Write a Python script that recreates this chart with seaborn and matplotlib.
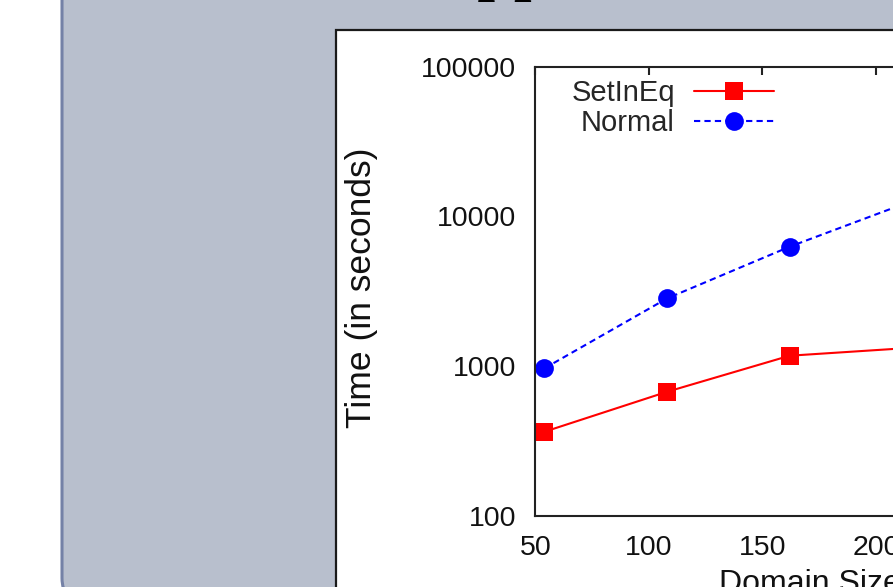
import matplotlib
matplotlib.use("Agg")
import matplotlib.pyplot as plt
from matplotlib.patches import FancyBboxPatch, Rectangle
from matplotlib.ticker import LogLocator, NullFormatter
import numpy as np
import seaborn as sns

# data
domain_size = [54, 108, 162, 216]
setineq_time = [364, 673, 1172, 1325]
normal_time = [966, 2830, 6270, 12700]
x_ticks = [50, 100, 150, 200, 250, 300]
y_ticks = [100, 1000, 10000, 100000]

sns.set_theme(style="white")
plt.rcParams["font.family"] = ["Liberation Sans", "DejaVu Sans"]

fig = plt.figure(figsize=(8.93, 5.87), dpi=100)

# slide background (pixel coordinates, y down)
bg = fig.add_axes([0, 0, 1, 1], zorder=0)
bg.set_xlim(0, 893)
bg.set_ylim(587, 0)
bg.axis("off")
bg.add_patch(FancyBboxPatch((62, -60), 1000, 662,
                            boxstyle="round,pad=0,rounding_size=24",
                            fc="#b8bfcd", ec="#7481a6", lw=2.2))
bg.add_patch(Rectangle((336, 30), 700, 700, fc="white", ec="#1a1a1a", lw=1.6))
bg.text(477, -14, "pp", family=["Liberation Serif", "DejaVu Serif"],
        fontsize=54, va="baseline", ha="left", color="black")

# chart
ax = fig.add_axes([535.4 / 893, (587 - 515.7) / 587, 567.5 / 893, 449 / 587], zorder=1)
ax.set_facecolor("white")

sns.lineplot(x=domain_size, y=setineq_time, ax=ax, color="#ff0000", marker="s",
             markersize=12.5, markeredgewidth=0, linewidth=1.5, label="SetInEq")
sns.lineplot(x=domain_size, y=normal_time, ax=ax, color="#0000ff", marker="o",
             markersize=13.5, markeredgewidth=0, linewidth=1.5,
             linestyle=(0, (3, 2)), label="Normal")

ax.set_yscale("log")
ax.set_xlim(50, 300)
ax.set_ylim(100, 100000)
ax.set_xticks(x_ticks, labels=[str(t) for t in x_ticks])
ax.set_yticks(y_ticks, labels=[str(t) for t in y_ticks])
ax.yaxis.set_minor_locator(LogLocator(base=10, subs=np.arange(2, 10)))
ax.yaxis.set_minor_formatter(NullFormatter())

ax.tick_params(which="both", direction="in", top=True, right=True, color="#222222")
ax.tick_params(which="major", length=5.8, width=1.5, labelsize=20.5, labelcolor="#111111")
ax.tick_params(axis="y", which="major", pad=14)
ax.tick_params(axis="x", which="major", pad=14)
ax.tick_params(which="minor", length=3, width=1.2)
for sp in ax.spines.values():
    sp.set_color("#222222")
    sp.set_linewidth(1.5)

ax.set_ylabel("Time (in seconds)", fontsize=25.5, color="#111111")
ax.yaxis.set_label_coords((378 - 535.4) / 567.5, (515.7 - 287.5) / 449)
ax.set_xlabel("Domain Size", fontsize=23, color="#111111")
ax.xaxis.set_label_coords((720 + 90 - 535.4) / 567.5, (515.7 - 569) / 449)

ax.legend(loc="upper right", bbox_to_anchor=((774 - 535.4) / 567.5, (515.7 - 79) / 449),
          markerfirst=False, frameon=False, fontsize=21, borderpad=0, borderaxespad=0,
          handlelength=2.75, handletextpad=0.65, labelspacing=0.08)

fig.savefig("out.png", dpi=100)
